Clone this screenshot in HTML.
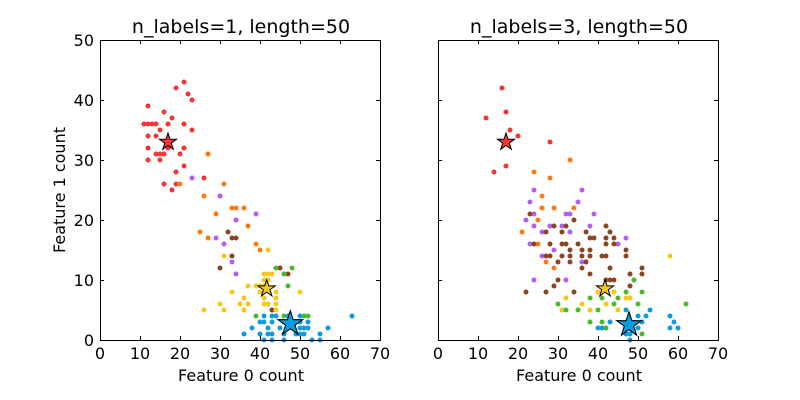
<!DOCTYPE html>
<html><head><meta charset="utf-8"><style>
html,body{margin:0;padding:0;background:#fff;}
svg{display:block;font-family:"DejaVu Sans","Liberation Sans",sans-serif;}
.r{fill:#f53535}.o{fill:#fa7a14}.p{fill:#b25ef5}.b{fill:#8b4420}.y{fill:#f7c815}.g{fill:#4cb82c}.u{fill:#0b9be0}
text{fill:#000}
</style></head><body>
<svg width="800" height="400" viewBox="0 0 800 400" xmlns="http://www.w3.org/2000/svg">
<defs>
<path id="st" d="M0,-1 L0.225,-0.309 L0.951,-0.309 L0.363,0.118 L0.588,0.809 L0,0.382 L-0.588,0.809 L-0.363,0.118 L-0.951,-0.309 L-0.225,-0.309Z"/>
</defs>
<rect width="800" height="400" fill="#fff"/>
<g stroke="none">
<!-- left -->
<g class="r">
<circle cx="184" cy="82" r="2.5"/><circle cx="176" cy="88" r="2.5"/><circle cx="188" cy="94" r="2.5"/><circle cx="192" cy="100" r="2.5"/><circle cx="148" cy="106" r="2.5"/><circle cx="164" cy="112" r="2.5"/><circle cx="172" cy="118" r="2.5"/>
<circle cx="144" cy="124" r="2.5"/><circle cx="148" cy="124" r="2.5"/><circle cx="152" cy="124" r="2.5"/><circle cx="156" cy="124" r="2.5"/><circle cx="168" cy="124" r="2.5"/><circle cx="184" cy="124" r="2.5"/>
<circle cx="160" cy="130" r="2.5"/><circle cx="192" cy="130" r="2.5"/><circle cx="148" cy="136" r="2.5"/><circle cx="156" cy="136" r="2.5"/>
<circle cx="148" cy="148" r="2.5"/><circle cx="168" cy="148" r="2.5"/><circle cx="184" cy="148" r="2.5"/>
<circle cx="156" cy="154" r="2.5"/><circle cx="160" cy="154" r="2.5"/><circle cx="164" cy="154" r="2.5"/><circle cx="180" cy="154" r="2.5"/>
<circle cx="148" cy="160" r="2.5"/><circle cx="160" cy="160" r="2.5"/><circle cx="184" cy="166" r="2.5"/><circle cx="176" cy="172" r="2.5"/>
<circle cx="204" cy="178" r="2.5"/><circle cx="164" cy="184" r="2.5"/><circle cx="176" cy="184" r="2.5"/><circle cx="172" cy="190" r="2.5"/>
</g>
<g class="o">
<circle cx="208" cy="154" r="2.5"/><circle cx="224" cy="184" r="2.5"/><circle cx="180" cy="184" r="2.5"/><circle cx="204" cy="196" r="2.5"/><circle cx="232" cy="208" r="2.5"/><circle cx="236" cy="208" r="2.5"/><circle cx="244" cy="208" r="2.5"/><circle cx="216" cy="214" r="2.5"/><circle cx="248" cy="226" r="2.5"/><circle cx="200" cy="232" r="2.5"/><circle cx="208" cy="238" r="2.5"/><circle cx="256" cy="244" r="2.5"/><circle cx="260" cy="250" r="2.5"/>
</g>
<g class="p">
<circle cx="192" cy="178" r="2.5"/><circle cx="220" cy="196" r="2.5"/><circle cx="256" cy="214" r="2.5"/><circle cx="236" cy="220" r="2.5"/><circle cx="216" cy="238" r="2.5"/><circle cx="224" cy="244" r="2.5"/><circle cx="232" cy="262" r="2.5"/><circle cx="236" cy="274" r="2.5"/>
</g>
<g class="b">
<circle cx="228" cy="232" r="2.5"/><circle cx="232" cy="238" r="2.5"/><circle cx="236" cy="238" r="2.5"/><circle cx="232" cy="256" r="2.5"/><circle cx="220" cy="268" r="2.5"/><circle cx="280" cy="268" r="2.5"/><circle cx="288" cy="274" r="2.5"/><circle cx="272" cy="310" r="2.5"/>
</g>
<g class="y">
<circle cx="268" cy="250" r="2.5"/><circle cx="224" cy="256" r="2.5"/><circle cx="264" cy="274" r="2.5"/><circle cx="268" cy="274" r="2.5"/><circle cx="272" cy="274" r="2.5"/><circle cx="264" cy="280" r="2.5"/><circle cx="268" cy="280" r="2.5"/><circle cx="248" cy="286" r="2.5"/><circle cx="256" cy="286" r="2.5"/><circle cx="260" cy="286" r="2.5"/><circle cx="264" cy="286" r="2.5"/><circle cx="232" cy="292" r="2.5"/><circle cx="260" cy="292" r="2.5"/><circle cx="276" cy="292" r="2.5"/><circle cx="300" cy="292" r="2.5"/><circle cx="244" cy="298" r="2.5"/><circle cx="264" cy="298" r="2.5"/><circle cx="276" cy="298" r="2.5"/><circle cx="220" cy="304" r="2.5"/><circle cx="240" cy="304" r="2.5"/><circle cx="248" cy="304" r="2.5"/><circle cx="264" cy="304" r="2.5"/><circle cx="268" cy="304" r="2.5"/><circle cx="276" cy="304" r="2.5"/><circle cx="204" cy="310" r="2.5"/><circle cx="224" cy="310" r="2.5"/><circle cx="244" cy="310" r="2.5"/><circle cx="276" cy="310" r="2.5"/>
</g>
<g class="g">
<circle cx="276" cy="268" r="2.5"/><circle cx="292" cy="268" r="2.5"/><circle cx="284" cy="274" r="2.5"/><circle cx="288" cy="286" r="2.5"/><circle cx="256" cy="316" r="2.5"/><circle cx="284" cy="316" r="2.5"/><circle cx="304" cy="316" r="2.5"/><circle cx="308" cy="316" r="2.5"/>
</g>
<g class="u">
<circle cx="264" cy="316" r="2.5"/><circle cx="272" cy="316" r="2.5"/><circle cx="276" cy="316" r="2.5"/><circle cx="288" cy="316" r="2.5"/><circle cx="300" cy="316" r="2.5"/><circle cx="352" cy="316" r="2.5"/><circle cx="260" cy="322" r="2.5"/><circle cx="264" cy="322" r="2.5"/><circle cx="272" cy="322" r="2.5"/><circle cx="300" cy="322" r="2.5"/><circle cx="308" cy="322" r="2.5"/><circle cx="252" cy="328" r="2.5"/><circle cx="268" cy="328" r="2.5"/><circle cx="280" cy="328" r="2.5"/><circle cx="300" cy="328" r="2.5"/><circle cx="304" cy="328" r="2.5"/><circle cx="308" cy="328" r="2.5"/><circle cx="328" cy="328" r="2.5"/><circle cx="244" cy="334" r="2.5"/><circle cx="260" cy="334" r="2.5"/><circle cx="268" cy="334" r="2.5"/><circle cx="272" cy="334" r="2.5"/><circle cx="284" cy="334" r="2.5"/><circle cx="296" cy="334" r="2.5"/><circle cx="300" cy="334" r="2.5"/><circle cx="304" cy="334" r="2.5"/><circle cx="320" cy="334" r="2.5"/><circle cx="264" cy="340" r="2.5"/><circle cx="272" cy="340" r="2.5"/><circle cx="284" cy="340" r="2.5"/><circle cx="312" cy="340" r="2.5"/><circle cx="320" cy="340" r="2.5"/>
</g>
<!-- right -->
<g class="r">
<circle cx="502" cy="88" r="2.5"/><circle cx="506" cy="112" r="2.5"/><circle cx="486" cy="118" r="2.5"/><circle cx="510" cy="130" r="2.5"/><circle cx="518" cy="136" r="2.5"/><circle cx="550" cy="142" r="2.5"/><circle cx="506" cy="166" r="2.5"/><circle cx="494" cy="172" r="2.5"/>
</g>
<g class="o">
<circle cx="570" cy="160" r="2.5"/><circle cx="534" cy="172" r="2.5"/><circle cx="550" cy="178" r="2.5"/><circle cx="542" cy="196" r="2.5"/><circle cx="542" cy="208" r="2.5"/><circle cx="554" cy="208" r="2.5"/><circle cx="574" cy="208" r="2.5"/><circle cx="538" cy="220" r="2.5"/><circle cx="522" cy="232" r="2.5"/><circle cx="538" cy="244" r="2.5"/><circle cx="546" cy="262" r="2.5"/><circle cx="554" cy="268" r="2.5"/>
</g>
<g class="p">
<circle cx="534" cy="190" r="2.5"/><circle cx="582" cy="190" r="2.5"/><circle cx="530" cy="202" r="2.5"/><circle cx="578" cy="202" r="2.5"/><circle cx="534" cy="214" r="2.5"/><circle cx="566" cy="214" r="2.5"/><circle cx="570" cy="214" r="2.5"/><circle cx="594" cy="214" r="2.5"/><circle cx="526" cy="220" r="2.5"/><circle cx="534" cy="226" r="2.5"/><circle cx="550" cy="226" r="2.5"/><circle cx="562" cy="226" r="2.5"/><circle cx="590" cy="226" r="2.5"/><circle cx="542" cy="232" r="2.5"/><circle cx="570" cy="232" r="2.5"/><circle cx="626" cy="238" r="2.5"/><circle cx="530" cy="244" r="2.5"/><circle cx="618" cy="244" r="2.5"/><circle cx="554" cy="250" r="2.5"/><circle cx="542" cy="256" r="2.5"/><circle cx="582" cy="262" r="2.5"/><circle cx="534" cy="280" r="2.5"/><circle cx="566" cy="280" r="2.5"/>
</g>
<g class="b">
<circle cx="530" cy="214" r="2.5"/><circle cx="574" cy="220" r="2.5"/><circle cx="554" cy="226" r="2.5"/><circle cx="566" cy="226" r="2.5"/><circle cx="606" cy="226" r="2.5"/><circle cx="546" cy="232" r="2.5"/><circle cx="562" cy="232" r="2.5"/><circle cx="586" cy="232" r="2.5"/><circle cx="610" cy="232" r="2.5"/><circle cx="590" cy="238" r="2.5"/><circle cx="594" cy="238" r="2.5"/><circle cx="606" cy="238" r="2.5"/><circle cx="614" cy="238" r="2.5"/><circle cx="534" cy="244" r="2.5"/><circle cx="550" cy="244" r="2.5"/><circle cx="562" cy="244" r="2.5"/><circle cx="566" cy="244" r="2.5"/><circle cx="578" cy="244" r="2.5"/><circle cx="606" cy="244" r="2.5"/><circle cx="614" cy="244" r="2.5"/><circle cx="570" cy="250" r="2.5"/><circle cx="582" cy="250" r="2.5"/><circle cx="590" cy="250" r="2.5"/><circle cx="626" cy="250" r="2.5"/><circle cx="546" cy="256" r="2.5"/><circle cx="550" cy="256" r="2.5"/><circle cx="562" cy="256" r="2.5"/><circle cx="570" cy="256" r="2.5"/><circle cx="582" cy="256" r="2.5"/><circle cx="590" cy="256" r="2.5"/><circle cx="602" cy="256" r="2.5"/><circle cx="606" cy="256" r="2.5"/><circle cx="626" cy="256" r="2.5"/><circle cx="558" cy="262" r="2.5"/><circle cx="570" cy="262" r="2.5"/><circle cx="586" cy="262" r="2.5"/><circle cx="582" cy="268" r="2.5"/><circle cx="610" cy="268" r="2.5"/><circle cx="642" cy="268" r="2.5"/><circle cx="590" cy="274" r="2.5"/><circle cx="630" cy="274" r="2.5"/><circle cx="642" cy="274" r="2.5"/><circle cx="558" cy="280" r="2.5"/><circle cx="606" cy="280" r="2.5"/><circle cx="610" cy="280" r="2.5"/><circle cx="614" cy="280" r="2.5"/><circle cx="554" cy="286" r="2.5"/><circle cx="630" cy="286" r="2.5"/><circle cx="526" cy="292" r="2.5"/><circle cx="546" cy="292" r="2.5"/><circle cx="574" cy="292" r="2.5"/>
</g>
<g class="y">
<circle cx="670" cy="256" r="2.5"/><circle cx="598" cy="292" r="2.5"/><circle cx="614" cy="292" r="2.5"/><circle cx="566" cy="298" r="2.5"/><circle cx="626" cy="298" r="2.5"/><circle cx="630" cy="298" r="2.5"/><circle cx="582" cy="304" r="2.5"/><circle cx="606" cy="304" r="2.5"/><circle cx="562" cy="310" r="2.5"/><circle cx="590" cy="310" r="2.5"/><circle cx="618" cy="310" r="2.5"/>
</g>
<g class="g">
<circle cx="634" cy="280" r="2.5"/><circle cx="626" cy="292" r="2.5"/><circle cx="642" cy="292" r="2.5"/><circle cx="590" cy="298" r="2.5"/><circle cx="602" cy="298" r="2.5"/><circle cx="618" cy="298" r="2.5"/><circle cx="558" cy="304" r="2.5"/><circle cx="614" cy="304" r="2.5"/><circle cx="638" cy="304" r="2.5"/><circle cx="686" cy="304" r="2.5"/><circle cx="566" cy="310" r="2.5"/><circle cx="578" cy="310" r="2.5"/><circle cx="598" cy="310" r="2.5"/><circle cx="590" cy="322" r="2.5"/><circle cx="602" cy="322" r="2.5"/><circle cx="606" cy="328" r="2.5"/><circle cx="642" cy="334" r="2.5"/>
</g>
<g class="u">
<circle cx="626" cy="310" r="2.5"/><circle cx="650" cy="310" r="2.5"/><circle cx="638" cy="316" r="2.5"/><circle cx="646" cy="316" r="2.5"/><circle cx="670" cy="316" r="2.5"/><circle cx="610" cy="322" r="2.5"/><circle cx="642" cy="322" r="2.5"/><circle cx="674" cy="322" r="2.5"/><circle cx="598" cy="328" r="2.5"/><circle cx="602" cy="328" r="2.5"/><circle cx="638" cy="328" r="2.5"/><circle cx="670" cy="328" r="2.5"/><circle cx="678" cy="328" r="2.5"/><circle cx="626" cy="334" r="2.5"/><circle cx="630" cy="334" r="2.5"/><circle cx="630" cy="340" r="2.5"/>
</g>
</g>
<!-- stars -->
<g stroke="#000" stroke-width="1">
<use href="#st" class="r" transform="translate(168,142) scale(9)" vector-effect="non-scaling-stroke" style="stroke-width:0.11"/>
<use href="#st" class="y" transform="translate(266.7,288.7) scale(9)" style="stroke-width:0.11"/>
<use href="#st" class="u" transform="translate(290.3,323.7) scale(13)" style="stroke-width:0.08"/>
<use href="#st" class="r" transform="translate(506,142) scale(9)" style="stroke-width:0.11"/>
<use href="#st" class="y" transform="translate(605,288.7) scale(9)" style="stroke-width:0.11"/>
<use href="#st" class="u" transform="translate(629,324.7) scale(13)" style="stroke-width:0.08"/>
</g>
<!-- axes frames -->
<g fill="none" stroke="#000" stroke-width="1">
<rect x="100.5" y="40.5" width="280" height="300"/>
<rect x="438.5" y="40.5" width="280" height="300"/>
<path d="M140.5,340v-4M180.5,340v-4M220.5,340v-4M260.5,340v-4M300.5,340v-4M340.5,340v-4
M140.5,40v4M180.5,40v4M220.5,40v4M260.5,40v4M300.5,40v4M340.5,40v4
M100,280.5h4M100,220.5h4M100,160.5h4M100,100.5h4M380,280.5h-4M380,220.5h-4M380,160.5h-4M380,100.5h-4
M478.5,340v-4M518.5,340v-4M558.5,340v-4M598.5,340v-4M638.5,340v-4M678.5,340v-4
M478.5,40v4M518.5,40v4M558.5,40v4M598.5,40v4M638.5,40v4M678.5,40v4
M438,280.5h4M438,220.5h4M438,160.5h4M438,100.5h4M718,280.5h-4M718,220.5h-4M718,160.5h-4M718,100.5h-4"/>
</g>
<g font-size="16" text-anchor="middle">
<text x="100" y="359">0</text><text x="140" y="359">10</text><text x="180" y="359">20</text><text x="220" y="359">30</text><text x="260" y="359">40</text><text x="300" y="359">50</text><text x="340" y="359">60</text><text x="380" y="359">70</text>
<text x="438" y="359">0</text><text x="478" y="359">10</text><text x="518" y="359">20</text><text x="558" y="359">30</text><text x="598" y="359">40</text><text x="638" y="359">50</text><text x="678" y="359">60</text><text x="718" y="359">70</text>
</g>
<g font-size="16" text-anchor="end">
<text x="94" y="346">0</text><text x="94" y="286">10</text><text x="94" y="226">20</text><text x="94" y="166">30</text><text x="94" y="106">40</text><text x="94" y="46">50</text>
</g>
<g font-size="16" text-anchor="middle">
<text x="241" y="381">Feature 0 count</text>
<text x="579" y="381">Feature 0 count</text>
<text transform="translate(65,190) rotate(-90)">Feature 1 count</text>
</g>
<g font-size="19" text-anchor="middle">
<text x="241" y="33">n_labels=1, length=50</text>
<text x="579" y="33">n_labels=3, length=50</text>
</g>
</svg>
</body></html>
